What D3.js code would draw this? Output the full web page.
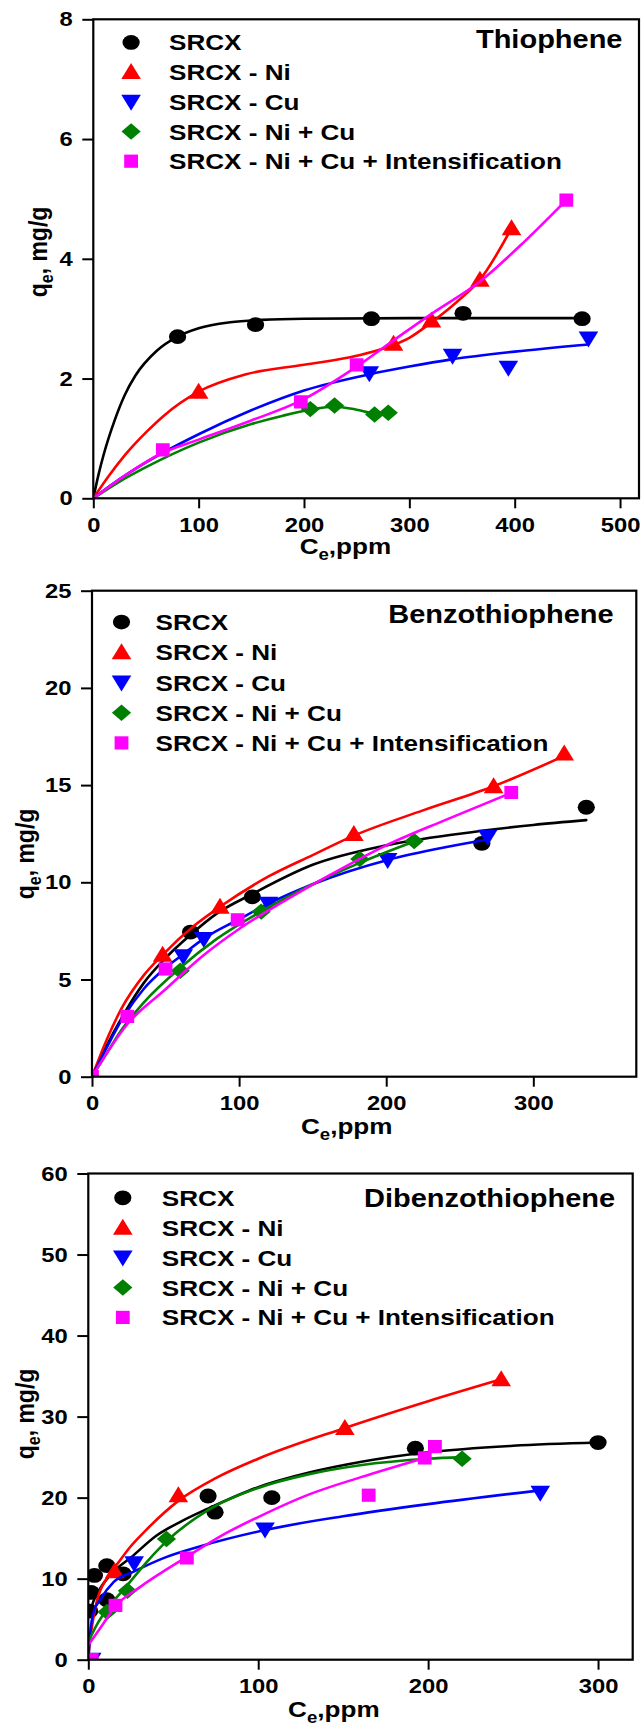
<!DOCTYPE html>
<html>
<head>
<meta charset="utf-8">
<script src="https://cdn.jsdelivr.net/npm/d3@7"></script>
<style>
  html, body { margin: 0; padding: 0; background: #fff; }
  svg { display: block; }
</style>
</head>
<body>
<div id="chart"></div>
<script>
/* Adsorption isotherms - three stacked panels (thiophene, BT, DBT) */

// ---- series (shared by all panels) ----
var seriesNames  = ['SRCX', 'SRCX - Ni', 'SRCX - Cu', 'SRCX - Ni + Cu', 'SRCX - Ni + Cu + Intensification'];
var seriesColors = ['#000000', '#ff0000', '#0000ff', '#008000', '#ff00ff'];
var seriesShapes = ['circle', 'triUp', 'triDown', 'diamond', 'square'];

// ---- Thiophene: measured points [Ce, qe] ----
var thioPts = [
    [[80,2.70],[154,2.90],[264,3.00],[351,3.09],[464,3.00]],
    [[100,1.78],[285,2.58],[321,2.97],[367,3.65],[397,4.51]],
    [[262,2.09],[341,2.38],[394,2.18],[470,2.67]],
    [[206,1.49],[229,1.55],[267,1.40],[280,1.43]],
    [[66,0.81],[197,1.61],[250,2.23],[449,4.98]]
];
// fitted curves
var thioFit = [
    [[0,0],[5,0.40],[10,0.74],[20,1.29],[30,1.73],[40,2.05],[60,2.46],[80,2.70],[100,2.84],[130,2.94],[160,2.98],[200,3.0],[300,3.01],[464,3.01]],
    [[0,0],[15,0.38],[30,0.72],[50,1.1],[67,1.38],[100,1.78],[145,2.07],[200,2.23],[250,2.38],[285,2.56],[300,2.68],[321,2.94],[345,3.28],[367,3.65],[397,4.51]],
    [[0,0],[25,0.32],[50,0.6],[100,1.07],[150,1.47],[200,1.80],[262,2.07],[300,2.2],[340,2.32],[400,2.45],[470,2.57]],
    [[0,0],[25,0.28],[50,0.52],[100,0.93],[150,1.24],[180,1.38],[206,1.48],[229,1.53],[250,1.48],[267,1.42],[280,1.43]],
    [[0,0],[30,0.38],[66,0.76],[100,0.98],[150,1.3],[197,1.63],[250,2.2],[290,2.7],[321,3.08],[367,3.62],[410,4.3],[449,4.98]]
];
var thioXTicks = [0, 100, 200, 300, 400, 500];
var thioYTicks = [0, 2, 4, 6, 8];

// ---- Benzothiophene ----
var benzoPts = [
    [[67,7.44],[109,9.25],[265,12.0],[336,13.86]],
    [[48,6.27],[87,8.74],[178,12.48],[273,14.94],[321,16.62]],
    [[62,6.2],[76,7.08],[120,8.9],[201,11.15],[269,12.34]],
    [[60,5.45],[115,8.49],[182,11.2],[219,12.12]],
    [[0,0],[24,3.1],[50,5.54],[99,8.07],[285,14.62]]
];
var benzoFit = [
    [[0,0],[10,1.6],[20,3.0],[35,4.8],[50,6.1],[67,7.3],[85,8.4],[109,9.4],[150,10.9],[200,11.9],[250,12.5],[300,12.95],[336,13.2]],
    [[0,0],[10,1.9],[20,3.5],[35,5.2],[48,6.27],[70,7.8],[87,8.74],[120,10.3],[150,11.4],[178,12.4],[225,13.7],[273,14.94],[321,16.5]],
    [[0,0],[10,1.5],[20,2.9],[35,4.5],[50,5.6],[62,6.3],[76,7.1],[100,8.1],[120,8.9],[150,9.9],[201,11.15],[240,11.8],[269,12.2]],
    [[0,0],[10,1.2],[20,2.4],[35,3.8],[60,5.6],[85,7.1],[115,8.5],[150,9.9],[182,11.0],[219,12.1]],
    [[0,0],[24,2.7],[50,4.5],[75,6.2],[100,7.6],[130,9.0],[160,10.3],[200,11.9],[240,13.2],[285,14.6]]
];
var benzoXTicks = [0, 100, 200, 300];
var benzoYTicks = [0, 5, 10, 15, 20, 25];

// ---- Dibenzothiophene ----
var dibenzoPts = [
    [[0.8,6.0],[1.7,8.3],[3.6,10.4],[10.9,11.6],[10.9,7.4],[20.5,10.6],[70.5,20.2],[74.6,18.2],[108,20.0],[192.5,26.1],[300,26.8]],
    [[15.5,10.9],[53,20.3],[151,28.6],[243,34.6]],
    [[2,0],[27,11.9],[104,16.06],[266,20.6]],
    [[11,5.9],[23,8.5],[46,14.9],[220,24.8]],
    [[2,0],[16,6.7],[58,12.55],[165,20.3],[198,24.9],[204,26.3]]
];
var dibenzoFit = [
    [[0.5,5.5],[3,7.2],[7,8.8],[15,10.9],[25,12.6],[40,15.3],[55,17.1],[70,18.6],[100,21.3],[130,23.1],[160,24.4],[200,25.6],[250,26.4],[300,26.8]],
    [[0,0],[1,2.5],[2,3.9],[5,7.2],[11,10.1],[17,11.8],[25,14.0],[34,16.0],[53,19.6],[75,22.4],[100,24.8],[151,28.6],[200,31.9],[243,34.6]],
    [[0,0],[1,3],[3,5.8],[7,7.4],[15,9.6],[27,10.9],[45,12.6],[66,14.0],[104,16.0],[150,17.7],[200,19.2],[266,20.9]],
    [[0,2.2],[5,4.3],[11,6.2],[23,9.2],[35,12.2],[46,14.6],[70,18.4],[100,21.2],[130,22.9],[160,24.0],[200,24.8],[220,25.0]],
    [[0,1.8],[8,4.2],[16,6.6],[30,8.9],[58,12.7],[80,15.5],[100,17.6],[130,20.4],[160,22.5],[198,24.9]]
];
var dibenzoXTicks = [0, 100, 200, 300];
var dibenzoYTicks = [0, 10, 20, 30, 40, 50, 60];

// ---- layout ----
var W = 644, H = 1728;
var SX = 1.16;   // the source figure is stretched horizontally
var FONT = "'Liberation Sans', Arial, Helvetica, sans-serif";

var panels = [
    { title: 'Thiophene', pts: thioPts, fit: thioFit, xMax: 518, yMax: 8, xTicks: thioXTicks, yTicks: thioYTicks,
      box: {l: 93.3, r: 639, t: 19.3, b: 498.3},
      legend: {mx: 131.1, tx: 169, y0: 42.4, dy: 29.7},
      titleAt: {x: 622.5, y: 47.8}, xLab: {x: 299.7, y: 554}, yLab: {x: 46.5, y: 252} },
    { title: 'Benzothiophene', pts: benzoPts, fit: benzoFit, xMax: 370, yMax: 25, xTicks: benzoXTicks, yTicks: benzoYTicks,
      box: {l: 92, r: 636.3, t: 590.7, b: 1076.7},
      legend: {mx: 121.5, tx: 155.6, y0: 622.1, dy: 30.2},
      titleAt: {x: 613.7, y: 622.8}, xLab: {x: 301, y: 1133.5}, yLab: {x: 34, y: 854} },
    { title: 'Dibenzothiophene', pts: dibenzoPts, fit: dibenzoFit, xMax: 320.4, yMax: 60, xTicks: dibenzoXTicks, yTicks: dibenzoYTicks,
      box: {l: 88.3, r: 632.7, t: 1173.5, b: 1659.7},
      legend: {mx: 122.8, tx: 161.8, y0: 1197.8, dy: 29.9},
      titleAt: {x: 615.2, y: 1207.2}, xLab: {x: 288.1, y: 1717}, yLab: {x: 33.5, y: 1414} }
];

var svg = d3.select('#chart').append('svg')
    .attr('width', W).attr('height', H)
    .style('font-family', FONT).style('font-weight', 'bold');

// marker shapes (already widened to match the stretched figure)
function drawMarker(g, shape, color, x, y){
    if(shape === 'circle'){
        g.append('ellipse').attr('cx', x).attr('cy', y).attr('rx', 8.6).attr('ry', 7.4).attr('fill', color);
        return;
    }
    var p;
    if(shape === 'triUp')        p = 'M0,-9L9.8,7L-9.8,7Z';
    else if(shape === 'triDown') p = 'M0,9L9.8,-7L-9.8,-7Z';
    else if(shape === 'diamond') p = 'M0,-8.2L9.6,0L0,8.2L-9.6,0Z';
    else                         p = 'M-6.9,-6.6L6.9,-6.6L6.9,6.6L-6.9,6.6Z';
    g.append('path').attr('d', p).attr('fill', color)
        .attr('transform', 'translate(' + x + ',' + y + ')');
}

function stretchedText(g, x, y, str, size, anchor){
    return g.append('text')
        .attr('transform', 'translate(' + x + ',' + y + ') scale(' + SX + ',1)')
        .attr('text-anchor', anchor || 'start')
        .attr('font-size', size)
        .attr('fill', '#000')
        .text(str);
}

panels.forEach(function(P, pi){
    var b = P.box;
    var x = d3.scaleLinear().domain([0, P.xMax]).range([b.l, b.r]);
    var y = d3.scaleLinear().domain([0, P.yMax]).range([b.b, b.t]);
    var g = svg.append('g');

    var clipId = 'clip' + pi;
    svg.append('defs').append('clipPath').attr('id', clipId)
        .append('rect').attr('x', b.l).attr('y', b.t).attr('width', b.r - b.l).attr('height', b.b - b.t);

    // Axes
    var xAxis = g.append('g').attr('transform', 'translate(0,' + b.b + ')')
        .call(d3.axisBottom(x).tickValues(P.xTicks).tickSize(10).tickPadding(9).tickFormat(d3.format('d')));
    var yAxis = g.append('g').attr('transform', 'translate(' + b.l + ',0)')
        .call(d3.axisLeft(y).tickValues(P.yTicks).tickSize(11).tickFormat(d3.format('d')));
    [xAxis, yAxis].forEach(function(ax){
        ax.select('.domain').remove();
        ax.selectAll('line').attr('stroke', '#000').attr('stroke-width', 2);
        ax.selectAll('text').attr('font-size', 20.5).attr('font-family', FONT)
            .attr('font-weight', 'bold').attr('fill', '#000');
    });
    xAxis.selectAll('text').attr('transform', 'scale(' + SX + ',1)');
    yAxis.selectAll('text').attr('x', -20.6 / SX).attr('transform', 'scale(' + SX + ',1)');

    // Fitted curves and data points
    var line = d3.line().x(function(d){ return x(d[0]); }).y(function(d){ return y(d[1]); })
        .curve(d3.curveMonotoneX);
    var plot = g.append('g').attr('clip-path', 'url(#' + clipId + ')');
    P.fit.forEach(function(fit, si){
        plot.append('path').datum(fit).attr('d', line)
            .attr('fill', 'none').attr('stroke', seriesColors[si]).attr('stroke-width', 2.6)
            .attr('stroke-linejoin', 'round').attr('stroke-linecap', 'round');
        P.pts[si].forEach(function(d){
            drawMarker(plot, seriesShapes[si], seriesColors[si], x(d[0]), y(d[1]));
        });
    });

    // Frame
    g.append('rect').attr('x', b.l).attr('y', b.t).attr('width', b.r - b.l).attr('height', b.b - b.t)
        .attr('fill', 'none').attr('stroke', '#000').attr('stroke-width', 2.2);

    // Legend
    seriesNames.forEach(function(name, si){
        var ly = P.legend.y0 + si * P.legend.dy;
        drawMarker(g, seriesShapes[si], seriesColors[si], P.legend.mx, ly);
        stretchedText(g, P.legend.tx, ly + 8, name, 22.5, 'start');
    });

    // Panel title
    stretchedText(g, P.titleAt.x, P.titleAt.y, P.title, 25, 'end');

    // x title: Ce,ppm
    var xt = stretchedText(g, P.xLab.x, P.xLab.y, '', 22.5, 'start');
    xt.append('tspan').text('C');
    xt.append('tspan').attr('font-size', 16).attr('dy', 6).text('e');
    xt.append('tspan').attr('dy', -6).text(',ppm');

    // y title: qe, mg/g
    var yt = g.append('text')
        .attr('transform', 'translate(' + P.yLab.x + ',' + P.yLab.y + ') scale(' + SX + ',1) rotate(-90)')
        .attr('text-anchor', 'middle').attr('font-size', 23).attr('fill', '#000');
    yt.append('tspan').text('q');
    yt.append('tspan').attr('font-size', 16).attr('dy', 6).text('e');
    yt.append('tspan').attr('dy', -6).text(', mg/g');
});
</script>
</body>
</html>
